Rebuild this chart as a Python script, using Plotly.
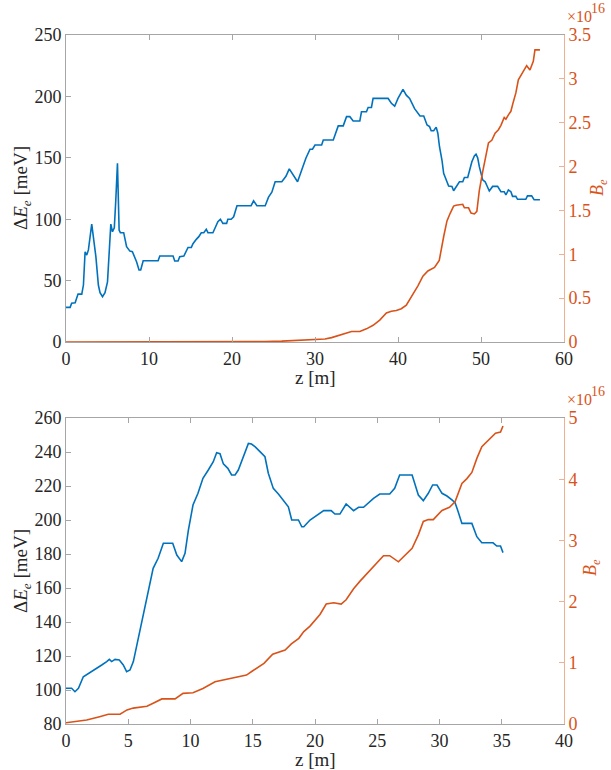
import plotly.graph_objects as go

# ---------------- data: top panel ----------------
z_top_dE = [0, 0.5, 0.68, 1.1, 1.45, 1.9, 2.1, 2.3, 2.5, 2.7, 3.1, 3.3, 3.6, 3.9, 4.1, 4.4, 4.7, 5.0, 5.4, 5.6,
            5.82, 6.0, 6.2, 6.4, 6.55, 6.95, 7.3, 7.7, 8.0, 8.5, 8.8, 9.0, 9.3, 11.1, 11.3, 12.9, 13.1, 13.5, 13.7,
            14.2, 14.5, 14.7, 15.1, 15.3, 15.7, 16.0, 16.3, 16.6, 16.9, 17.1, 17.7, 17.9, 18.3, 18.6, 18.9, 19.35,
            19.5, 19.9, 20.2, 20.6, 22.3, 22.6, 23.0, 24.0, 24.4, 24.8, 25.2, 26.0, 26.5, 26.9, 27.3, 27.9, 28.4,
            28.9, 29.4, 29.7, 30.0, 30.8, 31.0, 32.2, 32.8, 33.4, 33.8, 34.2, 34.6, 35.4, 35.6, 36.2, 36.4, 36.8,
            37.0, 38.8, 39.2, 39.6, 40.0, 40.6, 41.0, 41.4, 42.0, 42.65, 43.1, 43.5, 43.8, 44.0, 44.3, 44.6, 44.8,
            45.0, 45.3, 45.5, 46.1, 46.5, 46.7, 47.0, 47.4, 47.8, 48.0, 48.4, 48.6, 48.9, 49.2, 49.4, 49.6, 49.8,
            50.2, 50.5, 51.0, 51.4, 52.0, 52.4, 52.8, 53.0, 53.3, 53.6, 53.8, 54.2, 54.4, 55.4, 55.6, 56.1, 56.4,
            57.1]
dE_top = [28.2, 28.2, 31.5, 32, 39, 39, 46.4, 73.5, 70.8, 75, 96, 85.8, 69.5, 46.4, 40.2, 36.9, 40.2, 49, 96, 89.8,
          93, 115.6, 145.5, 91.2, 89, 89, 77.6, 74, 73.5, 65.4, 58.6, 58.6, 66.2, 66.2, 70, 70, 66, 66, 69.5,
          70, 73.5, 77, 77, 80, 83.6, 85.8, 89, 89, 91.8, 89, 89, 92.5, 98, 100, 96.6, 96.6,
          100, 100, 102, 111, 111, 115, 111, 111, 118, 122, 130.5, 130.5, 135, 141, 137, 130.5, 140,
          149.6, 157, 157, 160.4, 160.4, 164.5, 164.5, 176, 176, 183.5, 183.5, 180, 180, 187.5, 187.5, 191, 191,
          198.4, 198.4, 194.4, 192, 198.4, 205.8, 201, 198.4, 190, 184, 184, 176.7, 175.4, 172, 172, 175, 170,
          159, 148, 137.4, 127, 126.7, 123.2, 126.7, 130.5, 130.5, 134, 134, 140, 146.8, 151.5, 153, 150, 142.8,
          132, 130.5, 123, 126.7, 126.7, 122.4, 122.4, 119.7, 123.8, 122.4, 118.6, 118.6, 116.2, 116.2, 119, 119, 115.8,
          115.8]

z_top_B = [0, 10, 20, 22, 24, 26, 27, 28.2, 29, 30, 31.2, 32, 33, 33.8, 34.4, 35.4, 36.2, 37, 37.8, 38.6, 39.2,
           39.8, 40.4, 41, 41.8, 42.4, 43, 43.6, 44.4, 44.97, 45.5, 45.9, 46.3, 46.7, 47.0, 47.8, 48.0, 48.5,
           48.8, 49.2, 49.5, 49.8, 50.2, 50.6, 50.9, 51.3, 51.7, 52.1, 52.4, 52.8, 53.0, 53.3, 53.6, 53.9, 54.2,
           54.5, 55.1, 55.5, 55.9, 56.3, 56.5, 57.1]
B_top_1e16 = [0, 0, 0, 0.002, 0.005, 0.01, 0.015, 0.023, 0.03, 0.034, 0.034, 0.05, 0.08, 0.11, 0.12, 0.12, 0.15,
              0.19, 0.25, 0.33, 0.35, 0.36, 0.38, 0.42, 0.54, 0.64, 0.75, 0.81, 0.85, 0.93, 1.2, 1.38, 1.47, 1.55,
              1.56, 1.57, 1.53, 1.53, 1.47, 1.46, 1.49, 1.73, 1.94, 2.13, 2.27, 2.3, 2.38, 2.42, 2.47, 2.56, 2.54,
              2.59, 2.63, 2.74, 2.84, 2.99, 3.08, 3.15, 3.1, 3.2, 3.33, 3.33]

# ---------------- data: bottom panel ----------------
z_bot_dE = [0, 0.45, 0.72, 1.0, 1.39, 1.66, 2.06, 2.46, 2.87, 3.27, 3.48, 3.67, 3.94, 4.28, 4.6, 4.87, 5.14, 5.41,
            5.94, 6.48, 6.61, 7.0, 7.4, 7.82, 8.57, 8.9, 9.29, 9.56, 9.83, 10.2, 10.6, 11.0, 11.43, 11.83, 12.1,
            12.37, 12.64, 13.0, 13.3, 13.58, 13.84, 14.25, 14.65, 14.9, 15.2, 15.58, 15.98, 16.25, 16.65, 17.06,
            17.46, 17.86, 18.13, 18.67, 18.94, 19.1, 19.6, 20.0, 20.3, 20.7, 21.3, 21.6, 22.0, 22.5, 23.1, 23.5,
            23.9, 24.3, 24.7, 25.2, 26.0, 26.4, 26.8, 27.8, 28.0, 28.3, 28.7, 29.1, 29.45, 29.8, 30.2, 30.6, 31.0,
            31.25, 31.5, 31.8, 32.6, 33.0, 33.4, 34.3, 34.6, 34.9, 35.1]
dE_bot = [101, 101, 99, 101, 107.8, 109, 110.8, 112.7, 114.7, 116.7, 118, 116.7, 118, 117.6, 114.7, 110.8, 111.8,
          116.7, 135.3, 153, 158.8, 171.6, 177.5, 186.3, 186.3, 179.4, 175.5, 180.4, 194, 208.8, 215.7, 224.5,
          229.4, 234.3, 239.6, 239, 233, 230.4, 226.5, 226.5, 229.4, 237.2, 245, 244.7, 243, 240.2, 237.2, 227.5,
          218.6, 215.3, 211.8, 207.8, 200, 200, 196, 196, 200, 202, 204, 205.5, 205.5, 203.5, 203.5, 209.4, 205.5,
          207.5, 207.5, 210.2, 212.7, 215.3, 215.3, 218.6, 226.5, 226.5, 221.6, 214.7, 211.4, 215.7, 220.6, 220.6,
          215.7, 214.1, 211.8, 210.2, 204.9, 198, 198, 190.2, 186.6, 186.6, 184.7, 184.7, 180.8]

z_bot_B = [0, 1.66, 2.7, 3.4, 4.34, 4.9, 5.4, 6.5, 7.0, 7.7, 8.76, 9.4, 10.2, 11.0, 11.97, 13.0, 13.6, 14.5, 15.0,
           15.9, 16.6, 17.6, 18.1, 18.7, 19.1, 19.6, 20.4, 20.9, 21.5, 22.1, 22.5, 23.1, 23.6, 24.2, 25.0, 25.5,
           26.0, 26.7, 27.8, 28.3, 28.7, 29.1, 29.5, 30.2, 30.8, 31.25, 31.8, 32.2, 32.6, 33.0, 33.4, 34.0, 34.5,
           34.9, 35.1]
B_bot_1e16 = [0.02, 0.065, 0.12, 0.16, 0.16, 0.23, 0.26, 0.29, 0.34, 0.41, 0.41, 0.50, 0.51, 0.58, 0.69, 0.735,
              0.77, 0.80, 0.87, 0.99, 1.14, 1.21, 1.31, 1.40, 1.51, 1.60, 1.79, 1.96, 1.98, 1.96, 2.03, 2.21, 2.33,
              2.46, 2.65, 2.75, 2.75, 2.65, 2.87, 3.09, 3.31, 3.34, 3.34, 3.49, 3.54, 3.63, 3.93, 4.01, 4.11, 4.34,
              4.53, 4.65, 4.75, 4.77, 4.87]

# ---------------- styling ----------------
W, H = 611, 770
BLUE = "#0072BD"
ORANGE = "#D95319"
AXGRAY = "#a6a6a6"
ORLIGHT = "#f0b094"
TXT = "#262626"
FONT = "Liberation Serif"
TICKF = dict(family=FONT, size=18, color=TXT)
TICKF_OR = dict(family=FONT, size=18, color=ORANGE)

def px_x(p):
    return p / W

def px_y(p):
    return 1 - p / H

xdom = [px_x(66), px_x(564)]
top_dom = [px_y(342), px_y(35)]
bot_dom = [px_y(724), px_y(418)]

fig = go.Figure()
fig.add_trace(go.Scatter(x=z_top_dE, y=dE_top, mode="lines", line=dict(color=BLUE, width=1.6),
                         xaxis="x", yaxis="y", showlegend=False))
fig.add_trace(go.Scatter(x=z_top_B, y=B_top_1e16, mode="lines", line=dict(color=ORANGE, width=1.6),
                         xaxis="x", yaxis="y2", showlegend=False))
fig.add_trace(go.Scatter(x=z_bot_dE, y=dE_bot, mode="lines", line=dict(color=BLUE, width=1.6),
                         xaxis="x2", yaxis="y3", showlegend=False))
fig.add_trace(go.Scatter(x=z_bot_B, y=B_bot_1e16, mode="lines", line=dict(color=ORANGE, width=1.6),
                         xaxis="x2", yaxis="y4", showlegend=False))

xcommon = dict(showgrid=False, zeroline=False, showline=True, linecolor=AXGRAY, linewidth=1,
               mirror="ticks", ticks="inside", ticklen=5, tickcolor=AXGRAY, tickfont=TICKF, domain=xdom,
               automargin=False)
yleft = dict(showgrid=False, zeroline=False, showline=True, linecolor=AXGRAY, linewidth=1,
             ticks="inside", ticklen=5, tickcolor=AXGRAY, tickfont=TICKF, automargin=False)
yright = dict(showgrid=False, zeroline=False, showline=True, linecolor=ORLIGHT, linewidth=1,
              ticks="inside", ticklen=5, tickcolor=ORLIGHT, tickfont=TICKF_OR, side="right", automargin=False)

fig.update_layout(
    width=W, height=H, margin=dict(l=0, r=0, t=0, b=0, autoexpand=False),
    paper_bgcolor="white", plot_bgcolor="white",
    font=dict(family=FONT),
    xaxis=dict(**xcommon, range=[0, 60], tick0=0, dtick=10, anchor="y"),
    yaxis=dict(**yleft, range=[0, 250], tick0=0, dtick=50, domain=top_dom, anchor="x"),
    yaxis2=dict(**yright, range=[0, 3.5], tick0=0, dtick=0.5, overlaying="y", anchor="x"),
    xaxis2=dict(**xcommon, range=[0, 40], tick0=0, dtick=5, anchor="y3"),
    yaxis3=dict(**yleft, range=[80, 260], tick0=80, dtick=20, domain=bot_dom, anchor="x2"),
    yaxis4=dict(**yright, range=[0, 5], tick0=0, dtick=1, overlaying="y3", anchor="x2"),
)

TITLEF = dict(family=FONT, size=19, color=TXT)
ORF = dict(family=FONT, size=18, color=ORANGE)
EXPF = dict(family=FONT, size=16, color=ORANGE)
SUPF = dict(family=FONT, size=14, color=ORANGE)
ann = [
    dict(text="z [m]", x=px_x(315), y=px_y(377), font=TITLEF, xanchor="center", yanchor="middle"),
    dict(text="z [m]", x=px_x(315), y=px_y(759), font=TITLEF, xanchor="center", yanchor="middle"),
    dict(text="Δ<i>E</i><sub><i>e</i></sub> [meV]", x=px_x(22), y=px_y(188), font=TITLEF, textangle=-90,
         xanchor="center", yanchor="middle"),
    dict(text="Δ<i>E</i><sub><i>e</i></sub> [meV]", x=px_x(22), y=px_y(571), font=TITLEF, textangle=-90,
         xanchor="center", yanchor="middle"),
    dict(text="<i>B</i><sub><i>e</i></sub>", x=px_x(599), y=px_y(188), font=ORF,
         textangle=-90, xanchor="center", yanchor="middle"),
    dict(text="<i>B</i><sub><i>e</i></sub>", x=px_x(591), y=px_y(568), font=ORF,
         textangle=-90, xanchor="center", yanchor="middle"),
    dict(text="×10", x=px_x(565), y=px_y(17), font=EXPF, xanchor="left", yanchor="middle"),
    dict(text="16", x=px_x(589), y=px_y(9), font=SUPF, xanchor="left", yanchor="middle"),
    dict(text="×10", x=px_x(565), y=px_y(400), font=EXPF, xanchor="left", yanchor="middle"),
    dict(text="16", x=px_x(589), y=px_y(392), font=SUPF, xanchor="left", yanchor="middle"),
]
for a in ann:
    a.update(xref="paper", yref="paper", showarrow=False)
fig.update_layout(annotations=ann)

fig.write_html(
    "out.html",
    post_script="document.body.style.margin='0';document.body.style.padding='0';"
                "document.body.style.overflow='hidden';",
)
